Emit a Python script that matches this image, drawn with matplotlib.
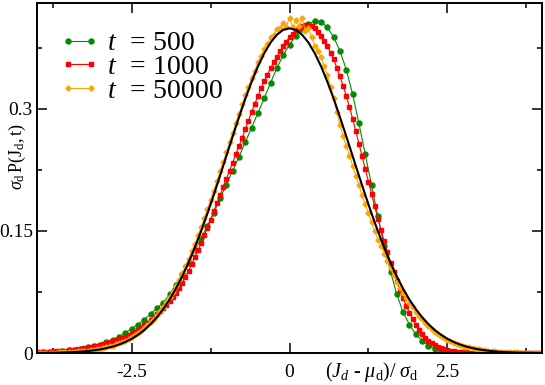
import numpy as np
import matplotlib
matplotlib.use('Agg')
import matplotlib.pyplot as plt

plt.rcParams['font.family'] = ['Liberation Serif', 'DejaVu Serif']
plt.rcParams['mathtext.fontset'] = 'custom'
plt.rcParams['mathtext.rm'] = 'Liberation Serif'
plt.rcParams['mathtext.it'] = 'Liberation Serif:italic'

# t = 500 (step 0.1, from -4.0 to 3.5)
x_500 = np.round(np.arange(-4.0, 3.51, 0.1), 2)
p_500 = [0.0006, 0.0009, 0.0013, 0.0018, 0.0025, 0.0033, 0.0043, 0.0055, 0.0068, 0.0083,
         0.0100, 0.0130, 0.0160, 0.0200, 0.0250, 0.0300, 0.0350, 0.0410, 0.0480, 0.0550,
         0.0620, 0.0720, 0.0840, 0.0970, 0.1110, 0.1260, 0.1410, 0.1560, 0.1720, 0.1900,
         0.2070, 0.2240, 0.2410, 0.2590, 0.2770, 0.2950, 0.3130, 0.3320, 0.3500, 0.3660,
         0.3790, 0.3890, 0.3980, 0.4040, 0.4080, 0.4070, 0.4000, 0.3880, 0.3710, 0.3480,
         0.3180, 0.2820, 0.2440, 0.2060, 0.1680, 0.1320, 0.1000, 0.0720, 0.0500, 0.0350,
         0.0230, 0.0150, 0.0090, 0.0050, 0.0030, 0.0015, 0.0007, 0.0003, 0.0001, 0.0,
         0.0, 0.0, 0.0, 0.0, 0.0, 0.0]

# t = 1000 (step 0.05, from -4.0 to 4.0)
x_1000 = np.round(np.arange(-4.0, 4.001, 0.05), 2)
p_1000 = [0.0008, 0.0009, 0.0011, 0.0013, 0.0015, 0.0017, 0.0020, 0.0023, 0.0026, 0.0029,
          0.0033, 0.0037, 0.0042, 0.0047, 0.0053, 0.0059, 0.0066, 0.0073, 0.0081, 0.0089,
          0.0098, 0.0108, 0.0118, 0.0130, 0.0142, 0.0156, 0.0170, 0.0186, 0.0202, 0.0220,
          0.0240, 0.0262, 0.0285, 0.0312, 0.0340, 0.0372, 0.0405, 0.0440, 0.0475, 0.0512,
          0.0550, 0.0591, 0.0635, 0.0686, 0.0740, 0.0800, 0.0865, 0.0935, 0.1010, 0.1090,
          0.1175, 0.1262, 0.1350, 0.1445, 0.1540, 0.1640, 0.1740, 0.1840, 0.1940, 0.2040,
          0.2140, 0.2240, 0.2340, 0.2440, 0.2540, 0.2645, 0.2750, 0.2855, 0.2960, 0.3060,
          0.3160, 0.3250, 0.3340, 0.3420, 0.3500, 0.3570, 0.3640, 0.3705, 0.3770, 0.3825,
          0.3880, 0.3925, 0.3970, 0.3995, 0.4020, 0.4030, 0.4030, 0.4015, 0.3990, 0.3945,
          0.3900, 0.3835, 0.3770, 0.3690, 0.3610, 0.3505, 0.3400, 0.3280, 0.3160, 0.3020,
          0.2880, 0.2725, 0.2570, 0.2415, 0.2260, 0.2105, 0.1950, 0.1800, 0.1650, 0.1510,
          0.1370, 0.1240, 0.1110, 0.0995, 0.0880, 0.0775, 0.0670, 0.0580, 0.0490, 0.0415,
          0.0340, 0.0285, 0.0230, 0.0190, 0.0150, 0.0122, 0.0095, 0.0076, 0.0058, 0.0046,
          0.0035, 0.0027, 0.0020, 0.0016, 0.0012, 0.0009, 0.0007, 0.0005, 0.0004, 0.0003,
          0.0002, 0.0001, 0.0001, 0.0001, 0.0001, 0.0001, 0.0001, 0.0001, 0.0, 0.0,
          0.0, 0.0, 0.0, 0.0, 0.0, 0.0, 0.0, 0.0, 0.0, 0.0, 0.0]

# t = 50000 (step 0.05, from -4.0 to 4.0)
x_50000 = np.round(np.arange(-4.0, 4.001, 0.05), 2)
p_50000 = [0.0002, 0.0002, 0.0003, 0.0003, 0.0004, 0.0005, 0.0006, 0.0007, 0.0008, 0.0010,
           0.0012, 0.0014, 0.0016, 0.0019, 0.0022, 0.0026, 0.0030, 0.0035, 0.0040, 0.0046,
           0.0053, 0.0061, 0.0070, 0.0080, 0.0092, 0.0105, 0.0119, 0.0135, 0.0152, 0.0171,
           0.0193, 0.0217, 0.0243, 0.0272, 0.0303, 0.0338, 0.0376, 0.0418, 0.0463, 0.0511,
           0.0565, 0.0623, 0.0686, 0.0752, 0.0823, 0.0898, 0.0978, 0.1063, 0.1152, 0.1248,
           0.1342, 0.1445, 0.1548, 0.1658, 0.1765, 0.1880, 0.1995, 0.2110, 0.2230, 0.2350,
           0.2465, 0.2590, 0.2705, 0.2830, 0.2940, 0.3055, 0.3170, 0.3270, 0.3380, 0.3470,
           0.3570, 0.3650, 0.3740, 0.3795, 0.3880, 0.3910, 0.3985, 0.3990, 0.4060, 0.4010,
           0.4120, 0.4000, 0.4090, 0.4020, 0.4110, 0.3960, 0.3990, 0.3880, 0.3776, 0.3711,
           0.3637, 0.3520, 0.3410, 0.3270, 0.3135, 0.2966, 0.2804, 0.2661, 0.2541, 0.2420,
           0.2299, 0.2179, 0.2059, 0.1942, 0.1827, 0.1714, 0.1604, 0.1497, 0.1394, 0.1315,
           0.1219, 0.1127, 0.1040, 0.0957, 0.0878, 0.0804, 0.0734, 0.0670, 0.0620, 0.0562,
           0.0508, 0.0458, 0.0412, 0.0370, 0.0331, 0.0297, 0.0264, 0.0235, 0.0209, 0.0186,
           0.0165, 0.0146, 0.0129, 0.0114, 0.0100, 0.0088, 0.0077, 0.0068, 0.0059, 0.0052,
           0.0045, 0.0039, 0.0034, 0.0029, 0.0025, 0.0021, 0.0018, 0.0015, 0.0013, 0.0011,
           0.0009, 0.0008, 0.0007, 0.0006, 0.0005, 0.0004, 0.0004, 0.0003, 0.0003, 0.0002,
           0.0002]

# gaussian reference (step 0.1, from -4.0 to 4.0)
x_gauss = np.round(np.arange(-4.0, 4.001, 0.1), 2)
p_gauss = [0.0001, 0.0002, 0.0003, 0.0004, 0.0006, 0.0009, 0.0012, 0.0017, 0.0024, 0.0033,
           0.0044, 0.0060, 0.0079, 0.0104, 0.0136, 0.0175, 0.0224, 0.0283, 0.0355, 0.0440,
           0.0540, 0.0656, 0.0790, 0.0940, 0.1109, 0.1295, 0.1497, 0.1714, 0.1942, 0.2179,
           0.2420, 0.2661, 0.2897, 0.3123, 0.3332, 0.3521, 0.3683, 0.3814, 0.3910, 0.3970,
           0.3989,
           0.3970, 0.3910, 0.3814, 0.3683, 0.3521, 0.3332, 0.3123, 0.2897, 0.2661, 0.2420,
           0.2179, 0.1942, 0.1714, 0.1497, 0.1295, 0.1109, 0.0940, 0.0790, 0.0656, 0.0540,
           0.0440, 0.0355, 0.0283, 0.0224, 0.0175, 0.0136, 0.0104, 0.0079, 0.0060, 0.0044,
           0.0033, 0.0024, 0.0017, 0.0012, 0.0009, 0.0006, 0.0004, 0.0003, 0.0002, 0.0001]

fig = plt.figure(figsize=(5.45, 3.85), dpi=100)
ax = fig.add_axes([37/545, 1-353/385, 505/545, 350/385])

ax.plot(x_500, p_500, '-o', color='#008c00', lw=0.8, ms=3.6, label=r'$t\;\;=\,500$')
ax.plot(x_1000, p_1000, '-s', color='#ff0000', lw=0.8, ms=3.2, label=r'$t\;\;=\,1000$')
ax.plot(x_50000, p_50000, '-D', color='#ffa500', lw=0.8, ms=2.6, label=r'$t\;\;=\,50000$')
ax.plot(x_gauss, p_gauss, '-', color='black', lw=1.5)

ax.set_xlim(-4, 4)
ax.set_ylim(0, 0.43)
ax.set_xticks([-2.5, 0, 2.5])
ax.set_xticklabels(['-2.5', '0', '2.5'])
ax.set_xticks([-3.75, -1.25, 1.25, 3.75], minor=True)
ax.set_yticks([0, 0.15, 0.3])
ax.set_yticklabels(['0', '0.15', '0.3'])
ax.set_yticks([0.075, 0.225, 0.375], minor=True)
ax.tick_params(which='both', direction='in', top=True, right=True, labelsize=14, width=1.1)
ax.tick_params(which='major', length=7)
ax.tick_params(which='minor', length=3.5)
ax.tick_params(axis='x', which='major', pad=8)
ax.tick_params(axis='y', which='major', pad=3)
for s in ax.spines.values():
    s.set_linewidth(1.4)

fig.text(17/545, 1-156/385, r'$\sigma_{\rm d}\,{\rm P(J_{\rm d},t)}$', rotation=90,
         ha='center', va='center', fontsize=13)
fig.text(372/545, 1-372/385, r'$(J_d$ - $\mu_{\rm d})/\ \sigma_{\rm d}$',
         ha='center', va='center', fontsize=14.5)

ax.legend(loc='upper left', bbox_to_anchor=(0.022, 0.952), frameon=False, fontsize=20,
          numpoints=2, handlelength=1.43, handletextpad=0.3, labelspacing=-0.06,
          borderaxespad=0.0)

plt.savefig('out.png', dpi=100)
